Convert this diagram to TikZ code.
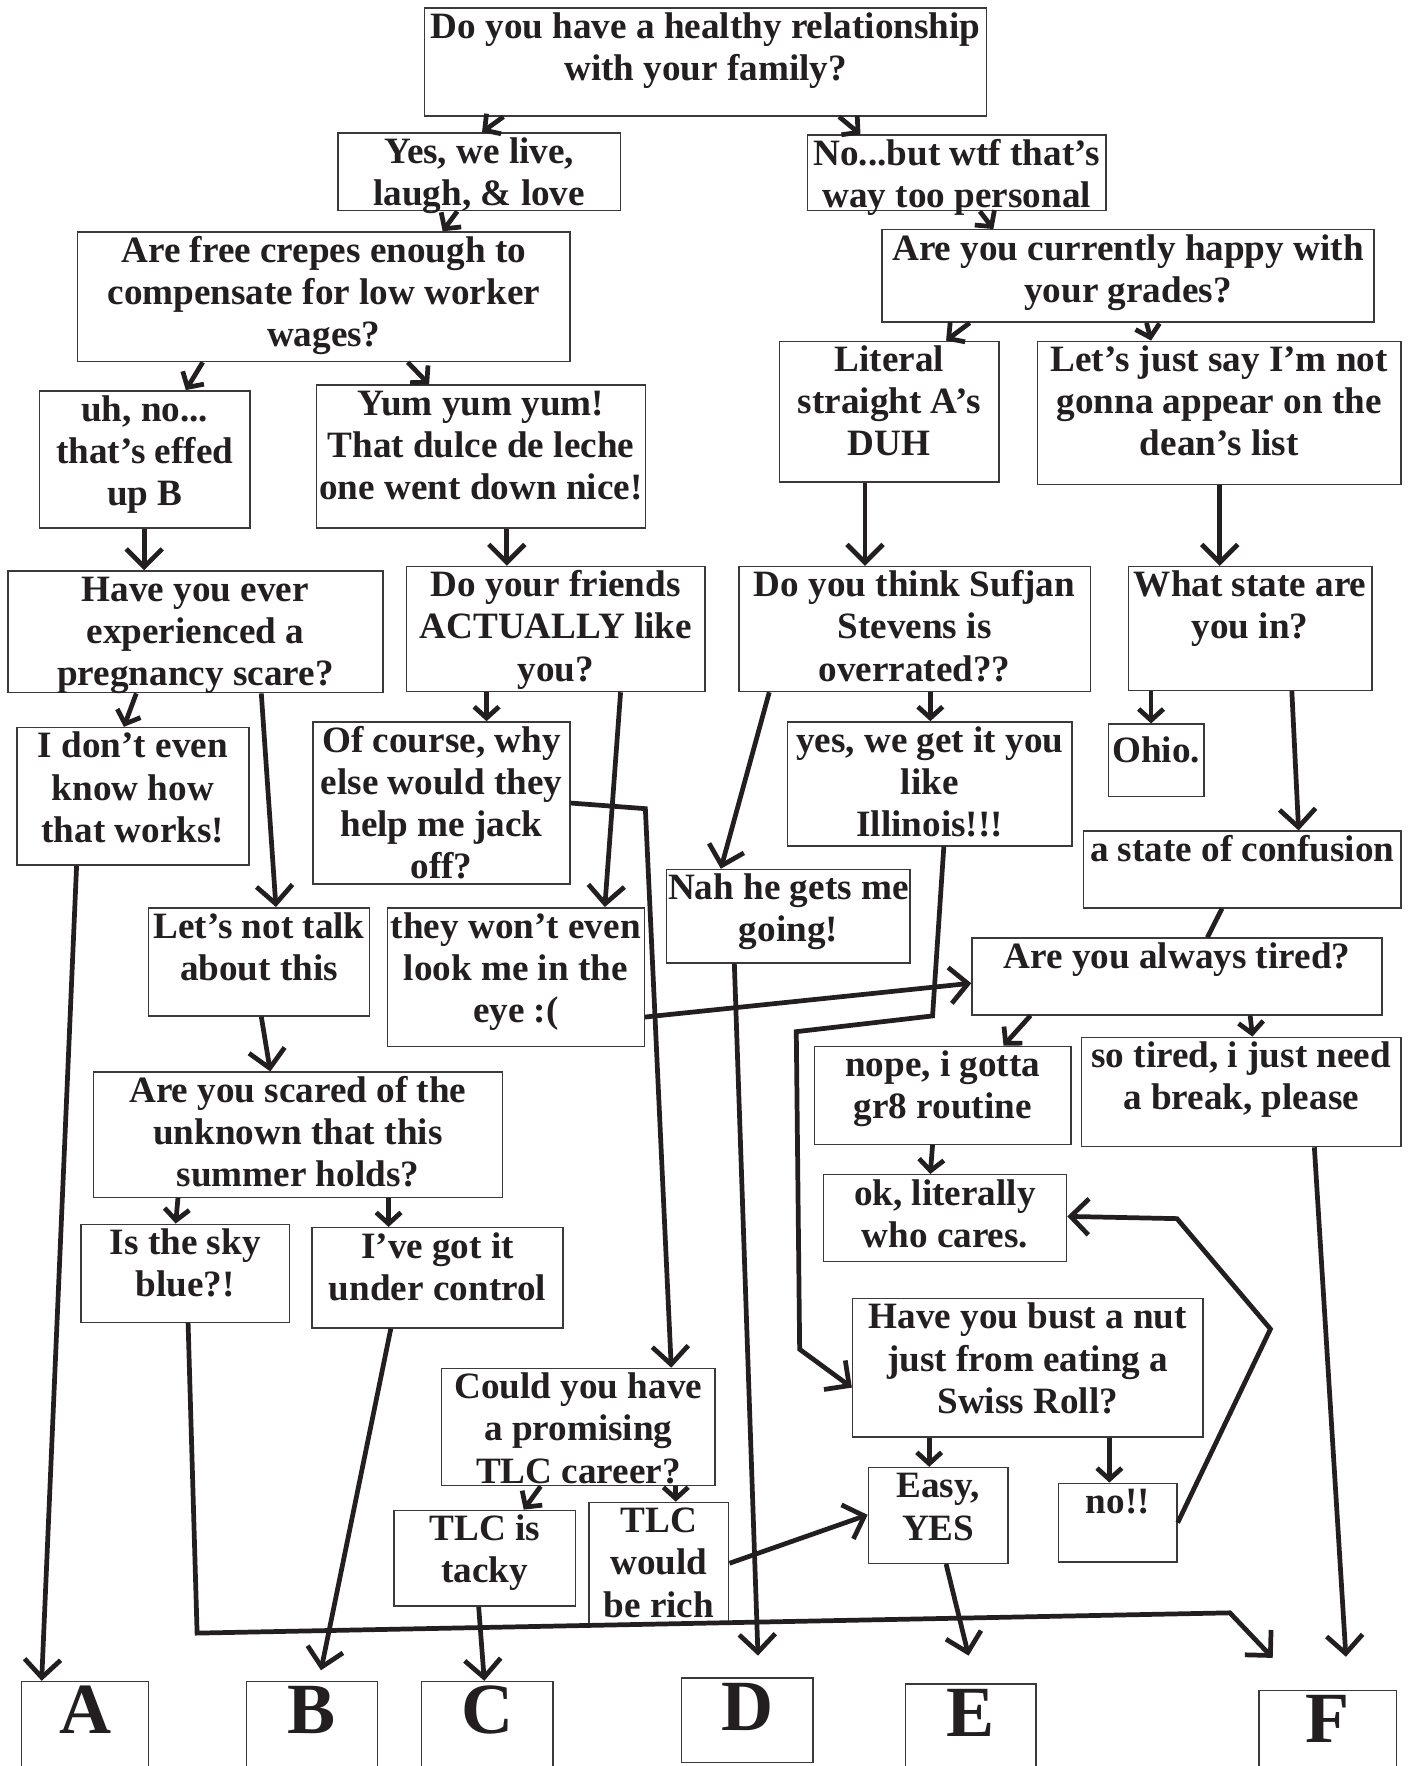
\documentclass[tikz,border=0pt]{standalone}
\usepackage{fontspec}
\setmainfont{Liberation Serif}
\usetikzlibrary{arrows.meta,fit}
\definecolor{ink}{HTML}{231F20}
\definecolor{edgecol}{HTML}{3A3A3A}
\newcommand\bx[6]{%
  \node[box, fit={(#2,#3) (#4,#5)}] (#1) {};
  \node[txt] (#1-t) at (#1.north) {\rule{0pt}{13.6pt}#6};}
\newcommand\lbox[6]{%
  \node[box, fit={(#2,#3) (#4,#5)}] (#1) {};
  \node[big] (#1-t) at (#1.north) {#6};}
\begin{document}
\begin{tikzpicture}[x=0.5pt,y=-0.5pt,
  box/.style={draw=edgecol, line width=0.65pt, inner sep=0pt, rectangle},
  txt/.style={font=\bfseries\fontsize{16.5}{18.7}\selectfont, text=ink, align=center, inner sep=0pt, anchor=north},
  big/.style={font=\bfseries\fontsize{32}{32}\selectfont, text=ink, inner sep=0pt, anchor=base, yshift=-23.5pt},
  conn/.style={draw=ink, line width=2.1pt},
  arr/.style={conn, -{Straight Barb[length=8pt,width=16pt]}},
  sarr/.style={conn, -{Straight Barb[length=5pt,width=11pt]}}]
\useasboundingbox (0,0) rectangle (1255,1568);
\clip (0,0) rectangle (1255,1568);
\fill[white] (0,0) rectangle (1255,1568);

\bx{q1}{377}{7}{876}{103}{Do you have a healthy relationship\\with your family?}
\bx{yes}{300}{118}{551}{187}{Yes, we live,\\laugh, \& love}
\bx{no}{717}{120}{982}{187}{No...but wtf that’s\\way too personal}
\bx{crepes}{69}{206}{506}{321}{Are free crepes enough to\\compensate for low worker\\wages?}
\bx{grades}{783}{204}{1220}{286}{Are you currently happy with\\your grades?}
\bx{uhno}{35}{347}{222}{469}{uh, no...\\that’s effed\\up B}
\bx{yum}{281}{342}{573}{469}{Yum yum yum!\\That dulce de leche\\one went down nice!}
\bx{lit}{692}{303}{887}{428}{Literal\\straight A’s\\DUH}
\bx{dean}{921}{303}{1244}{430}{Let’s just say I’m not\\gonna appear on the\\dean’s list}
\bx{preg}{7}{507}{340}{615}{Have you ever\\experienced a\\pregnancy scare?}
\bx{friends}{361}{503}{626}{614}{Do your friends\\ACTUALLY like\\you?}
\bx{sufjan}{656}{503}{968}{614}{Do you think Sufjan\\Stevens is\\overrated??}
\bx{state}{1002}{503}{1218}{613}{What state are\\you in?}
\bx{dunno}{15}{646}{221}{768}{I don’t even\\know how\\that works!}
\bx{course}{278}{641}{506}{785}{Of course, why\\else would they\\help me jack\\off?}
\bx{ill}{699}{641}{952}{751}{yes, we get it you\\like\\Illinois!!!}
\node[box, fit={(984,643) (1069,707)}] (ohio) {};
\node[txt, yshift=-3.5pt] (ohio-t) at (ohio.north) {\rule{0pt}{13.6pt}Ohio.};
\bx{conf}{962}{738}{1244}{806}{a state of confusion}
\bx{nah}{592}{772}{808}{855}{Nah he gets me\\going!}
\bx{notalk}{132}{806}{328}{902}{Let’s not talk\\about this}
\bx{wont}{344}{806}{572}{929}{they won’t even\\look me in the\\eye :(}
\bx{tired}{863}{833}{1227}{901}{Are you always tired?}
\bx{nope}{723}{929}{951}{1016}{nope, i gotta\\gr8 routine}
\bx{sotired}{960}{921}{1244}{1018}{so tired, i just need\\a break, please}
\bx{scared}{83}{952}{446}{1063}{Are you scared of the\\unknown that this\\summer holds?}
\bx{cares}{731}{1043}{947}{1120}{ok, literally\\who cares.}
\bx{sky}{72}{1087}{257}{1174}{Is the sky\\blue?!}
\bx{control}{277}{1090}{500}{1179}{I’ve got it\\under control}
\bx{nut}{757}{1153}{1068}{1276}{Have you bust a nut\\just from eating a\\Swiss Roll?}
\bx{tlc}{392}{1215}{635}{1319}{Could you have\\a promising\\TLC career?}
\bx{easy}{771}{1303}{895}{1388}{Easy,\\YES}
\bx{nono}{940}{1317}{1045}{1387}{no!!}
\bx{tacky}{350}{1341}{511}{1426}{TLC is\\tacky}
\bx{rich}{523}{1334}{647}{1442}{TLC\\would\\be rich}

\lbox{A}{19}{1493}{132}{1590}{A}
\lbox{B}{219}{1493}{335}{1590}{B}
\lbox{C}{374}{1493}{491}{1590}{C}
\lbox{D}{605}{1490}{722}{1565}{D}
\lbox{E}{804}{1495}{920}{1590}{E}
\lbox{F}{1118}{1501}{1240}{1590}{F}

% free ends and bends
\coordinate (endF1) at (1195,1471);
\coordinate (endF2) at (1130,1472);
\coordinate (endB) at (285,1483);
\coordinate (endD) at (673,1470);
\coordinate (endE) at (860,1470);
\coordinate (b1) at (573,718);
\coordinate (b2) at (828,902);
\coordinate (b3) at (707,916);
\coordinate (b4) at (710,1198);
\coordinate (b5) at (175,1450);
\coordinate (b6) at (1092,1432);
\coordinate (b7) at (1128,1180);
\coordinate (b8) at (1045,1082);

% connectors
\draw[sarr] (447,0 |- q1.south) -- (428,0 |- yes.north);
\draw[sarr] (745,0 |- q1.south) -- (764,0 |- no.north);
\draw[sarr] (406,0 |- yes.south) -- (393,0 |- crepes.north);
\draw[sarr] (870,0 |- no.south) -- (882,0 |- grades.north);
\draw[sarr] (180,0 |- crepes.south) -- (165,0 |- uhno.north);
\draw[sarr] (362,0 |- crepes.south) -- (381,0 |- yum.north);
\draw[sarr] (861,0 |- grades.south) -- (840,0 |- lit.north);
\draw[sarr] (1018,0 |- grades.south) -- (1022,0 |- dean.north);
\draw[arr] (128,0 |- uhno.south) -- (128,0 |- preg.north);
\draw[arr] (450,0 |- yum.south) -- (450,0 |- friends.north);
\draw[arr] (768,0 |- lit.south) -- (768,0 |- sufjan.north);
\draw[arr] (1083,0 |- dean.south) -- (1083,0 |- state.north);
\draw[sarr] (121,0 |- preg.south) -- (110,0 |- dunno.north);
\draw[arr] (232,0 |- preg.south) -- (245,0 |- notalk.north);
\draw[sarr] (432,0 |- friends.south) -- (432,0 |- course.north);
\draw[arr] (551,0 |- friends.south) -- (537,0 |- wont.north);
\draw[sarr] (826,0 |- sufjan.south) -- (826,0 |- ill.north);
\draw[arr] (683,0 |- sufjan.south) -- (640,0 |- nah.north);
\draw[sarr] (1022,0 |- state.south) -- (1022,0 |- ohio.north);
\draw[arr] (1147,0 |- state.south) -- (1153,0 |- conf.north);
\draw[conn] (1085,0 |- conf.south) -- (1072,0 |- tired.north);
\draw[arr] (68,0 |- dunno.south) -- (37,0 |- A.north);
\draw[arr] (course.east |- 0,713) -- (b1) -- (596,0 |- tlc.north);
\draw[arr] (wont.east |- 0,903) -- (tired.west |- 0,873);
\draw[arr] (838,0 |- ill.south) -- (b2) -- (b3) -- (b4) -- (nut.west |- 0,1232);
\draw[sarr] (915,0 |- tired.south) -- (891,0 |- nope.north);
\draw[sarr] (1110,0 |- tired.south) -- (1112,0 |- sotired.north);
\draw[sarr] (828,0 |- nope.south) -- (826,0 |- cares.north);
\draw[arr] (1167,0 |- sotired.south) -- (endF1);
\draw[arr] (232,0 |- notalk.south) -- (240,0 |- scared.north);
\draw[sarr] (158,0 |- scared.south) -- (156,0 |- sky.north);
\draw[sarr] (345,0 |- scared.south) -- (345,0 |- control.north);
\draw[arr] (167,0 |- sky.south) -- (b5) -- (b6) -- (endF2);
\draw[arr] (347,0 |- control.south) -- (endB);
\draw[sarr] (480,0 |- tlc.south) -- (465,0 |- tacky.north);
\draw[sarr] (600,0 |- tlc.south) -- (600,0 |- rich.north);
\draw[arr] (425,0 |- tacky.south) -- (430,0 |- C.north);
\draw[arr] (rich.east |- 0,1388) -- (easy.west |- 0,1345);
\draw[arr] (652,0 |- nah.south) -- (endD);
\draw[sarr] (825,0 |- nut.south) -- (825,0 |- easy.north);
\draw[sarr] (985,0 |- nut.south) -- (985,0 |- nono.north);
\draw[arr] (nono.east |- 0,1352) -- (b7) -- (b8) -- (cares.east |- 0,1080);
\draw[arr] (840,0 |- easy.south) -- (endE);
\end{tikzpicture}
\end{document}
